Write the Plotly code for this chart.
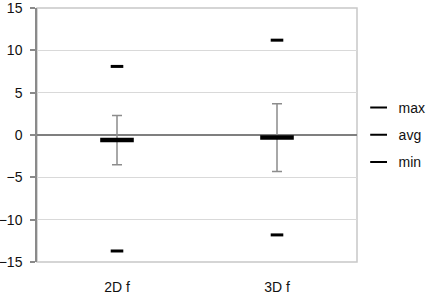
import plotly.graph_objects as go

categories = ["2D f", "3D f"]
max_vals = [8.1, 11.2]
avg_vals = [-0.6, -0.3]
min_vals = [-13.7, -11.8]
err_vals = [2.9, 4.0]

fig = go.Figure()

# error bars around the average
fig.add_trace(go.Scatter(
    x=categories, y=avg_vals, mode="markers",
    marker=dict(opacity=0, size=1),
    error_y=dict(type="data", array=err_vals, visible=True,
                 color="#8c8c8c", thickness=1.5, width=5),
    showlegend=False, hoverinfo="skip"))

fig.add_trace(go.Scatter(
    x=categories, y=max_vals, mode="markers", name="max", legendgroup="a",
    marker=dict(symbol="line-ew", size=9, color="black",
                line=dict(color="black", width=3))))
fig.add_trace(go.Scatter(
    x=categories, y=avg_vals, mode="markers", name="avg", legendgroup="b",
    marker=dict(symbol="line-ew", size=24, color="black",
                line=dict(color="black", width=4.5))))
fig.add_trace(go.Scatter(
    x=categories, y=min_vals, mode="markers", name="min", legendgroup="c",
    marker=dict(symbol="line-ew", size=9, color="black",
                line=dict(color="black", width=3))))

fig.update_layout(
    width=431, height=298,
    margin=dict(l=37, r=74, t=8, b=36, autoexpand=False),
    paper_bgcolor="white", plot_bgcolor="white",
    font=dict(family="Liberation Sans, Arial, sans-serif", size=14, color="#111"),
    showlegend=True,
    legend=dict(x=1.005, xanchor="left", y=0.5, yanchor="middle",
                traceorder="grouped", tracegroupgap=6,
                font=dict(size=14), itemsizing="constant",
                bgcolor="rgba(0,0,0,0)"),
    xaxis=dict(type="category", range=[-0.5, 1.5], showgrid=False,
               zeroline=False, showline=False, automargin=False,
               ticks="outside", ticklen=12, tickcolor="rgba(0,0,0,0)"),
    yaxis=dict(range=[-15, 15], dtick=5, showgrid=True, gridcolor="#d9d9d9",
               gridwidth=1, zeroline=True, zerolinecolor="#7f7f7f",
               zerolinewidth=1.5, showline=True, linecolor="#8a8a8a",
               linewidth=1.5, ticks="outside", ticklen=5, tickcolor="#8a8a8a",
               tickwidth=1.5, automargin=False, ticklabeloverflow="allow",
               ticklabelstandoff=5),
    shapes=[dict(type="rect", xref="paper", yref="paper", x0=0, x1=1,
                 y0=0, y1=1, line=dict(color="#c8c8c8", width=1.5),
                 layer="below")],
)

fig.write_html("out.html")
